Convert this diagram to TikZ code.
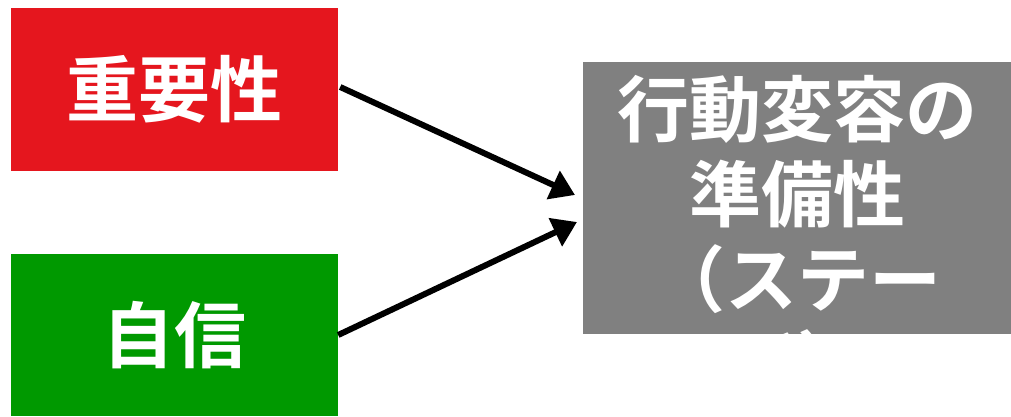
\documentclass[tikz,border=0pt]{standalone}
\usepackage{fontspec}
\newfontfamily\cjk{Noto Sans CJK JP}[BoldFont={Noto Sans CJK JP Bold}]
\usetikzlibrary{arrows.meta}
\definecolor{boxred}{RGB}{229,22,30}
\definecolor{boxgreen}{RGB}{0,153,0}
\definecolor{boxgray}{RGB}{128,128,128}
\tikzset{
  box/.style={draw=none, inner sep=0pt, minimum width=327pt, minimum height=163pt,
    text=white, font=\cjk\bfseries\fontsize{72}{85}\selectfont},
  arr/.style={line width=6pt, -{Triangle[length=24pt,width=30pt]}}
}
\begin{document}
\begin{tikzpicture}[x=1pt,y=-1pt]
\useasboundingbox (0,0) rectangle (1011,416);
\node[box, fill=boxred] (imp) at (174.5,89.5) {重要性};
\node[box, fill=boxgreen, minimum height=162pt] (conf) at (174.5,335) {自信};
\node[fill=boxgray, draw=none, inner sep=0pt, minimum width=428pt, minimum height=272pt] (stage) at (797,198) {};
\node[text=white, font=\cjk\bfseries\fontsize{72}{85}\selectfont, align=center, inner sep=0pt, text width=428pt] (stagetext) at (797,237) {行動変容の\\準備性\\（ステー\\ジ）};
\coordinate (t1) at (575,195);
\coordinate (t2) at (577,222);
\draw[arr] (imp.east |- 0,87) ++(2,0) -- (t1);
\draw[arr] (conf.east |- 0,335) -- (t2);
\end{tikzpicture}
\end{document}
